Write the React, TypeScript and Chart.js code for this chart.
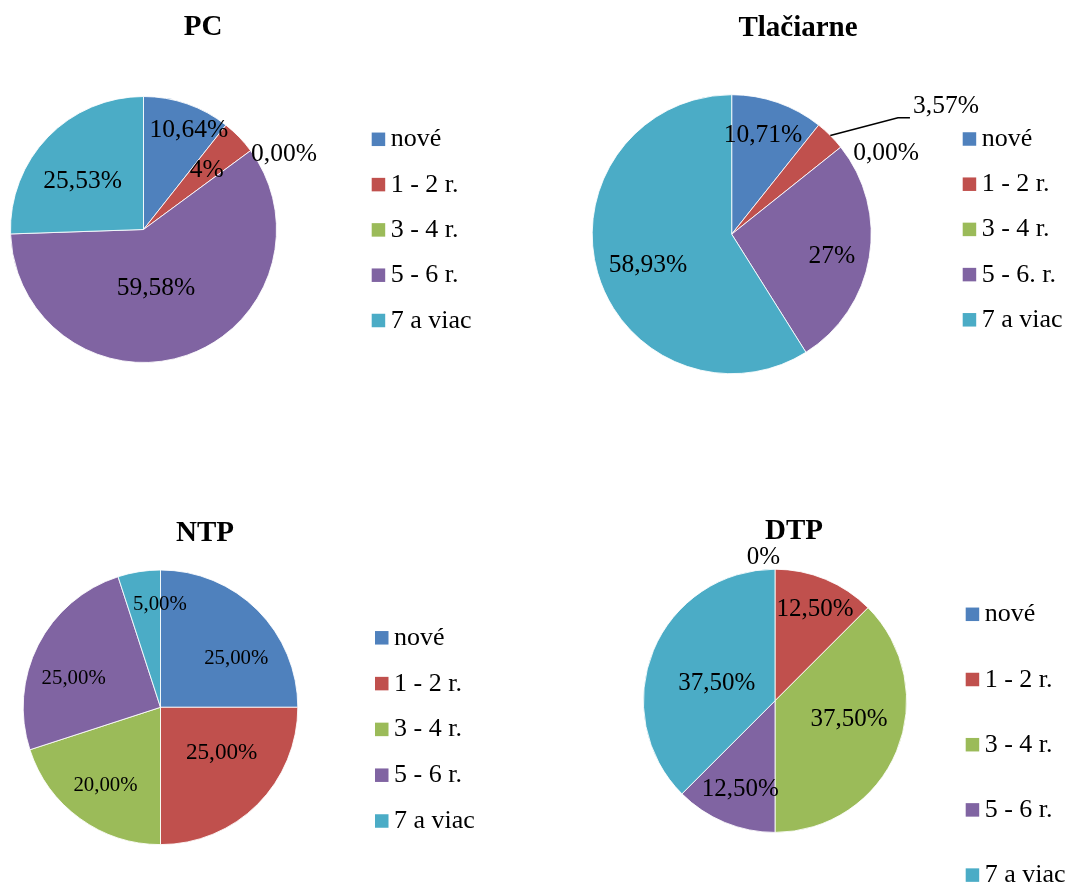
import React, { useEffect, useRef } from 'react';
import { Chart, registerables } from 'chart.js';

Chart.register(...registerables);

const FONT = '"Liberation Serif", "Times New Roman", Times, serif';

// ---- data ----
const CATEGORIES = ['nové', '1 - 2 r.', '3 - 4 r.', '5 - 6 r.', '7 a viac'];
const CATEGORIES_TLAC = ['nové', '1 - 2 r.', '3 - 4 r.', '5 - 6. r.', '7 a viac'];
const COLORS = ['#4F81BD', '#C0504D', '#9BBB59', '#8064A2', '#4BACC6'];

const PC_VALUES = [10.64, 4.26, 0, 59.57, 25.53];
const PC_LABELS = ['10,64%', '4%', '0,00%', '59,58%', '25,53%'];

const TLAC_VALUES = [10.71, 3.57, 0, 26.79, 58.93];
const TLAC_LABELS = ['10,71%', '3,57%', '0,00%', '27%', '58,93%'];

const NTP_VALUES = [25, 25, 20, 25, 5];
const NTP_LABELS = ['25,00%', '25,00%', '20,00%', '25,00%', '5,00%'];

const DTP_VALUES = [0, 12.5, 37.5, 12.5, 37.5];
const DTP_LABELS = ['0%', '12,50%', '37,50%', '12,50%', '37,50%'];

type Box = { left: number; top: number; width: number; height: number };
type PieSpec = {
  title: string;
  categories: string[];
  values: number[];
  labels: string[];
  box: Box;
  center: [number, number];
  radius: number;
  titlePos: [number, number];
  legend: { x: number; y: number; step: number };
  place: [number, number][]; // [radius fraction, angle offset in degrees]
  labelSize: number[];
  leader?: number;
};

const TITLE_SIZE = 29;
const LEGEND_SIZE = 26;
const LEGEND_BOX = 13.5;

const SPECS: PieSpec[] = [
  {
    title: 'PC',
    categories: CATEGORIES,
    values: PC_VALUES,
    labels: PC_LABELS,
    box: { left: 0, top: 0, width: 535, height: 440 },
    center: [143.5, 229.5],
    radius: 133,
    titlePos: [203, 35],
    legend: { x: 371.7, y: 139.3, step: 45.3 },
    place: [[0.833, 5.0], [0.658, 0.2], [1.203, 7.8], [0.442, 6.8], [0.594, -4.4]],
    labelSize: [25.5, 25.5, 25.5, 25.5, 25.5],
  },
  {
    title: 'Tlačiarne',
    categories: CATEGORIES_TLAC,
    values: TLAC_VALUES,
    labels: TLAC_LABELS,
    box: { left: 535, top: 0, width: 536, height: 440 },
    center: [731.7, 234.2],
    radius: 139.5,
    titlePos: [798, 35.5],
    legend: { x: 962.7, y: 139, step: 45.2 },
    place: [[0.755, -2.0], [1.794, 13.9], [1.257, 10.3], [0.733, 1.6], [0.637, -3.5]],
    labelSize: [25.5, 25.5, 25.5, 25.5, 25.5],
    leader: 1,
  },
  {
    title: 'NTP',
    categories: CATEGORIES,
    values: NTP_VALUES,
    labels: NTP_LABELS,
    box: { left: 0, top: 440, width: 535, height: 447 },
    center: [160.5, 707.3],
    radius: 137.3,
    titlePos: [205, 540.8],
    legend: { x: 375, y: 637.8, step: 45.8 },
    place: [[0.66, 11.7], [0.55, -9.1], [0.687, -0.3], [0.67, -7.7], [0.756, 8.7]],
    labelSize: [20.8, 23.2, 20.8, 20.8, 20.8],
  },
  {
    title: 'DTP',
    categories: CATEGORIES,
    values: DTP_VALUES,
    labels: DTP_LABELS,
    box: { left: 535, top: 440, width: 536, height: 447 },
    center: [775, 700.8],
    radius: 131.6,
    titlePos: [794, 539],
    legend: { x: 965.7, y: 614.3, step: 65.2 },
    place: [[1.104, -4.6], [0.768, 0.8], [0.577, -9.4], [0.713, -0.8], [0.466, -4.3]],
    labelSize: [25, 25, 25, 25, 25],
  },
];

function PieChart({ spec }: { spec: PieSpec }) {
  const ref = useRef<HTMLCanvasElement>(null);

  useEffect(() => {
    const canvas = ref.current;
    if (!canvas) return;
    const { box, center, radius } = spec;
    const cx = center[0] - box.left;
    const cy = center[1] - box.top;
    const half = radius + 0.5;

    const textPlugin = {
      id: 'pieText',
      afterDraw(chart: any) {
        const ctx: CanvasRenderingContext2D = chart.ctx;
        ctx.save();
        ctx.fillStyle = '#000';

        // title
        ctx.font = `bold ${TITLE_SIZE}px ${FONT}`;
        ctx.textAlign = 'center';
        ctx.textBaseline = 'alphabetic';
        ctx.fillText(spec.title, spec.titlePos[0] - box.left, spec.titlePos[1] - box.top);

        // legend
        ctx.font = `${LEGEND_SIZE}px ${FONT}`;
        ctx.textAlign = 'left';
        spec.categories.forEach((c, i) => {
          const lx = spec.legend.x - box.left;
          const ly = spec.legend.y - box.top + i * spec.legend.step;
          ctx.fillStyle = COLORS[i];
          ctx.fillRect(lx, ly - LEGEND_BOX / 2, LEGEND_BOX, LEGEND_BOX);
          ctx.fillStyle = '#000';
          ctx.fillText(c, lx + 19, ly + 7);
        });

        // data labels
        const meta = chart.getDatasetMeta(0);
        meta.data.forEach((arc: any, i: number) => {
          const p = arc.getProps(['x', 'y', 'startAngle', 'endAngle', 'outerRadius'], true);
          const [frac, dDeg] = spec.place[i];
          const a = (p.startAngle + p.endAngle) / 2 + (dDeg * Math.PI) / 180;
          const tx = p.x + Math.cos(a) * frac * p.outerRadius;
          const ty = p.y + Math.sin(a) * frac * p.outerRadius;
          const size = spec.labelSize[i];
          if (spec.leader === i) {
            const ma = (p.startAngle + p.endAngle) / 2;
            ctx.strokeStyle = '#000';
            ctx.lineWidth = 1.5;
            ctx.beginPath();
            ctx.moveTo(p.x + Math.cos(ma) * p.outerRadius, p.y + Math.sin(ma) * p.outerRadius);
            ctx.lineTo(tx - 48, ty + 13);
            ctx.lineTo(tx - 36, ty + 13);
            ctx.stroke();
          }
          ctx.fillStyle = '#000';
          ctx.font = `${size}px ${FONT}`;
          ctx.textAlign = 'center';
          ctx.textBaseline = 'alphabetic';
          ctx.fillText(spec.labels[i], tx, ty + 0.33 * size);
        });
        ctx.restore();
      },
    };

    const chart = new Chart(canvas, {
      type: 'pie',
      data: {
        labels: spec.categories,
        datasets: [
          {
            data: spec.values,
            backgroundColor: COLORS,
            borderColor: 'rgba(255,255,255,0.85)',
            borderWidth: 1,
            radius: radius,
          } as any,
        ],
      },
      options: {
        responsive: false,
        maintainAspectRatio: false,
        animation: false,
        events: [],
        layout: {
          padding: {
            left: cx - half,
            top: cy - half,
            right: box.width - cx - half,
            bottom: box.height - cy - half,
          },
        },
        plugins: {
          legend: { display: false },
          title: { display: false },
          tooltip: { enabled: false },
        },
      },
      plugins: [textPlugin],
    });
    return () => chart.destroy();
  }, [spec]);

  return (
    <canvas
      ref={ref}
      width={spec.box.width}
      height={spec.box.height}
      style={{
        position: 'absolute',
        left: spec.box.left,
        top: spec.box.top,
        width: spec.box.width,
        height: spec.box.height,
      }}
    />
  );
}

export default function App() {
  return (
    <div
      style={{
        position: 'absolute',
        left: 0,
        top: 0,
        width: 1071,
        height: 887,
        background: '#ffffff',
        overflow: 'hidden',
      }}
    >
      {SPECS.map((s) => (
        <PieChart key={s.title} spec={s} />
      ))}
    </div>
  );
}
